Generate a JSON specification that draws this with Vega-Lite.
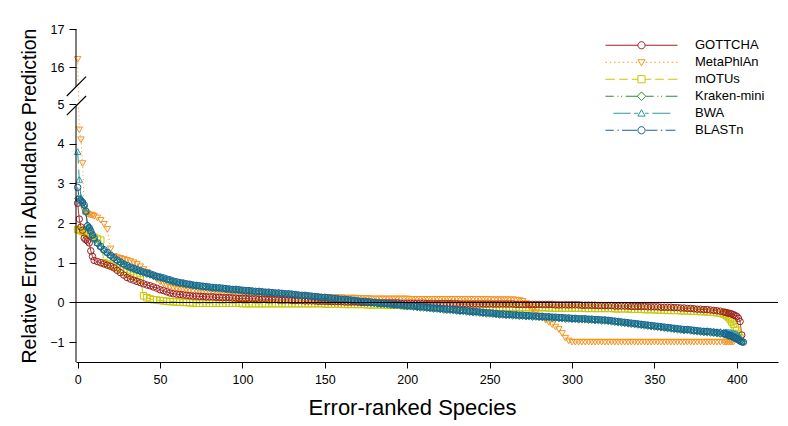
{
"$schema":"https://vega.github.io/schema/vega-lite/v6.json",
"width":702,"height":333,
"autosize":"none",
"padding":{"left":76,"top":29,"right":10,"bottom":64},
"config":{"font":"Liberation Sans","view":{"stroke":null},"axis":{"grid":false,"labelFont":"Liberation Sans","titleFont":"Liberation Sans","labelColor":"black","titleColor":"black","tickColor":"black","domainColor":"black","titleFontWeight":"normal"}},
"datasets":{
"d":[
{"x":0,"GOTTCHA":2.5,"MetaPhlAn":16.2,"mOTUs":1.84,"Kraken-mini":2.62,"BWA":3.8,"BLASTn":2.9},
{"x":1,"GOTTCHA":2.1,"MetaPhlAn":4.35,"mOTUs":1.83,"Kraken-mini":2.58,"BWA":3.1,"BLASTn":2.6},
{"x":2,"GOTTCHA":1.9,"MetaPhlAn":4.1,"mOTUs":1.81,"Kraken-mini":2.54,"BWA":2.65,"BLASTn":2.56},
{"x":3,"GOTTCHA":1.82,"MetaPhlAn":3.5,"mOTUs":1.79,"Kraken-mini":2.5,"BWA":2.55,"BLASTn":2.52},
{"x":4,"GOTTCHA":1.62,"MetaPhlAn":2.32,"mOTUs":1.77,"Kraken-mini":2.42,"BWA":2.48,"BLASTn":2.46},
{"x":5,"GOTTCHA":1.58,"MetaPhlAn":2.26,"mOTUs":1.75,"Kraken-mini":2.26,"BWA":2.3,"BLASTn":2.3},
{"x":6,"GOTTCHA":1.55,"MetaPhlAn":2.23,"mOTUs":1.73,"Kraken-mini":1.95,"BWA":1.9,"BLASTn":1.93},
{"x":7,"GOTTCHA":1.5,"MetaPhlAn":2.21,"mOTUs":1.71,"Kraken-mini":1.9,"BWA":1.88,"BLASTn":1.88},
{"x":8,"GOTTCHA":1.3,"MetaPhlAn":2.2,"mOTUs":1.69,"Kraken-mini":1.78,"BWA":1.81,"BLASTn":1.8},
{"x":9,"GOTTCHA":1.16,"MetaPhlAn":2.19,"mOTUs":1.66,"Kraken-mini":1.68,"BWA":1.71,"BLASTn":1.7},
{"x":10,"GOTTCHA":1.06,"MetaPhlAn":2.17,"mOTUs":1.64,"Kraken-mini":1.59,"BWA":1.63,"BLASTn":1.62},
{"x":12,"GOTTCHA":1.03,"MetaPhlAn":2.13,"mOTUs":1.61,"Kraken-mini":1.47,"BWA":1.51,"BLASTn":1.5},
{"x":14,"GOTTCHA":1.0,"MetaPhlAn":2.07,"mOTUs":1.57,"Kraken-mini":1.38,"BWA":1.42,"BLASTn":1.41},
{"x":16,"GOTTCHA":0.97,"MetaPhlAn":1.97,"mOTUs":1.0,"Kraken-mini":1.3,"BWA":1.34,"BLASTn":1.33},
{"x":18,"GOTTCHA":0.94,"MetaPhlAn":1.84,"mOTUs":0.97,"Kraken-mini":1.23,"BWA":1.27,"BLASTn":1.26},
{"x":20,"GOTTCHA":0.91,"MetaPhlAn":1.35,"mOTUs":0.94,"Kraken-mini":1.16,"BWA":1.2,"BLASTn":1.19},
{"x":22,"GOTTCHA":0.87,"MetaPhlAn":1.16,"mOTUs":0.91,"Kraken-mini":1.1,"BWA":1.14,"BLASTn":1.13},
{"x":24,"GOTTCHA":0.81,"MetaPhlAn":1.13,"mOTUs":0.87,"Kraken-mini":1.04,"BWA":1.08,"BLASTn":1.07},
{"x":26,"GOTTCHA":0.75,"MetaPhlAn":1.11,"mOTUs":0.83,"Kraken-mini":0.99,"BWA":1.03,"BLASTn":1.02},
{"x":28,"GOTTCHA":0.69,"MetaPhlAn":1.09,"mOTUs":0.79,"Kraken-mini":0.94,"BWA":0.98,"BLASTn":0.97},
{"x":30,"GOTTCHA":0.63,"MetaPhlAn":1.06,"mOTUs":0.76,"Kraken-mini":0.9,"BWA":0.94,"BLASTn":0.93},
{"x":32,"GOTTCHA":0.59,"MetaPhlAn":1.03,"mOTUs":0.72,"Kraken-mini":0.86,"BWA":0.9,"BLASTn":0.89},
{"x":34,"GOTTCHA":0.56,"MetaPhlAn":1.0,"mOTUs":0.68,"Kraken-mini":0.83,"BWA":0.87,"BLASTn":0.86},
{"x":36,"GOTTCHA":0.53,"MetaPhlAn":0.96,"mOTUs":0.64,"Kraken-mini":0.8,"BWA":0.84,"BLASTn":0.83},
{"x":38,"GOTTCHA":0.5,"MetaPhlAn":0.9,"mOTUs":0.58,"Kraken-mini":0.77,"BWA":0.81,"BLASTn":0.8},
{"x":40,"GOTTCHA":0.47,"MetaPhlAn":0.83,"mOTUs":0.17,"Kraken-mini":0.74,"BWA":0.78,"BLASTn":0.77},
{"x":42,"GOTTCHA":0.44,"MetaPhlAn":0.76,"mOTUs":0.12,"Kraken-mini":0.71,"BWA":0.75,"BLASTn":0.74},
{"x":44,"GOTTCHA":0.42,"MetaPhlAn":0.7,"mOTUs":0.09,"Kraken-mini":0.69,"BWA":0.73,"BLASTn":0.72},
{"x":46,"GOTTCHA":0.39,"MetaPhlAn":0.64,"mOTUs":0.07,"Kraken-mini":0.66,"BWA":0.7,"BLASTn":0.69},
{"x":48,"GOTTCHA":0.36,"MetaPhlAn":0.58,"mOTUs":0.06,"Kraken-mini":0.63,"BWA":0.67,"BLASTn":0.66},
{"x":50,"GOTTCHA":0.32,"MetaPhlAn":0.52,"mOTUs":0.05,"Kraken-mini":0.61,"BWA":0.65,"BLASTn":0.64},
{"x":52,"GOTTCHA":0.3,"MetaPhlAn":0.47,"mOTUs":0.04,"Kraken-mini":0.59,"BWA":0.63,"BLASTn":0.62},
{"x":54,"GOTTCHA":0.27,"MetaPhlAn":0.42,"mOTUs":0.03,"Kraken-mini":0.56,"BWA":0.6,"BLASTn":0.59},
{"x":56,"GOTTCHA":0.24,"MetaPhlAn":0.38,"mOTUs":0.02,"Kraken-mini":0.54,"BWA":0.58,"BLASTn":0.57},
{"x":58,"GOTTCHA":0.22,"MetaPhlAn":0.36,"mOTUs":0.02,"Kraken-mini":0.51,"BWA":0.55,"BLASTn":0.54},
{"x":60,"GOTTCHA":0.21,"MetaPhlAn":0.34,"mOTUs":0.01,"Kraken-mini":0.49,"BWA":0.53,"BLASTn":0.52},
{"x":62,"GOTTCHA":0.2,"MetaPhlAn":0.33,"mOTUs":0.01,"Kraken-mini":0.47,"BWA":0.51,"BLASTn":0.5},
{"x":64,"GOTTCHA":0.19,"MetaPhlAn":0.32,"mOTUs":0.0,"Kraken-mini":0.46,"BWA":0.5,"BLASTn":0.49},
{"x":66,"GOTTCHA":0.18,"MetaPhlAn":0.31,"mOTUs":0.0,"Kraken-mini":0.44,"BWA":0.48,"BLASTn":0.47},
{"x":68,"GOTTCHA":0.17,"MetaPhlAn":0.3,"mOTUs":-0.01,"Kraken-mini":0.43,"BWA":0.47,"BLASTn":0.46},
{"x":70,"GOTTCHA":0.16,"MetaPhlAn":0.29,"mOTUs":-0.01,"Kraken-mini":0.41,"BWA":0.45,"BLASTn":0.44},
{"x":72,"GOTTCHA":0.16,"MetaPhlAn":0.29,"mOTUs":-0.02,"Kraken-mini":0.4,"BWA":0.44,"BLASTn":0.43},
{"x":74,"GOTTCHA":0.15,"MetaPhlAn":0.28,"mOTUs":-0.02,"Kraken-mini":0.39,"BWA":0.43,"BLASTn":0.42},
{"x":76,"GOTTCHA":0.15,"MetaPhlAn":0.27,"mOTUs":-0.02,"Kraken-mini":0.38,"BWA":0.42,"BLASTn":0.41},
{"x":78,"GOTTCHA":0.14,"MetaPhlAn":0.27,"mOTUs":-0.02,"Kraken-mini":0.37,"BWA":0.41,"BLASTn":0.4},
{"x":80,"GOTTCHA":0.14,"MetaPhlAn":0.26,"mOTUs":-0.02,"Kraken-mini":0.36,"BWA":0.4,"BLASTn":0.39},
{"x":82,"GOTTCHA":0.14,"MetaPhlAn":0.26,"mOTUs":-0.02,"Kraken-mini":0.35,"BWA":0.39,"BLASTn":0.38},
{"x":84,"GOTTCHA":0.13,"MetaPhlAn":0.25,"mOTUs":-0.02,"Kraken-mini":0.34,"BWA":0.38,"BLASTn":0.37},
{"x":86,"GOTTCHA":0.13,"MetaPhlAn":0.25,"mOTUs":-0.02,"Kraken-mini":0.34,"BWA":0.38,"BLASTn":0.37},
{"x":88,"GOTTCHA":0.12,"MetaPhlAn":0.24,"mOTUs":-0.02,"Kraken-mini":0.33,"BWA":0.37,"BLASTn":0.36},
{"x":90,"GOTTCHA":0.12,"MetaPhlAn":0.24,"mOTUs":-0.02,"Kraken-mini":0.32,"BWA":0.36,"BLASTn":0.35},
{"x":92,"GOTTCHA":0.12,"MetaPhlAn":0.23,"mOTUs":-0.02,"Kraken-mini":0.31,"BWA":0.35,"BLASTn":0.34},
{"x":94,"GOTTCHA":0.11,"MetaPhlAn":0.23,"mOTUs":-0.02,"Kraken-mini":0.3,"BWA":0.34,"BLASTn":0.33},
{"x":96,"GOTTCHA":0.11,"MetaPhlAn":0.22,"mOTUs":-0.02,"Kraken-mini":0.3,"BWA":0.34,"BLASTn":0.33},
{"x":98,"GOTTCHA":0.1,"MetaPhlAn":0.22,"mOTUs":-0.02,"Kraken-mini":0.29,"BWA":0.33,"BLASTn":0.32},
{"x":100,"GOTTCHA":0.1,"MetaPhlAn":0.22,"mOTUs":-0.03,"Kraken-mini":0.28,"BWA":0.32,"BLASTn":0.31},
{"x":102,"GOTTCHA":0.1,"MetaPhlAn":0.21,"mOTUs":-0.03,"Kraken-mini":0.27,"BWA":0.31,"BLASTn":0.3},
{"x":104,"GOTTCHA":0.09,"MetaPhlAn":0.21,"mOTUs":-0.03,"Kraken-mini":0.27,"BWA":0.31,"BLASTn":0.3},
{"x":106,"GOTTCHA":0.09,"MetaPhlAn":0.21,"mOTUs":-0.03,"Kraken-mini":0.26,"BWA":0.3,"BLASTn":0.29},
{"x":108,"GOTTCHA":0.09,"MetaPhlAn":0.2,"mOTUs":-0.03,"Kraken-mini":0.25,"BWA":0.29,"BLASTn":0.28},
{"x":110,"GOTTCHA":0.08,"MetaPhlAn":0.2,"mOTUs":-0.03,"Kraken-mini":0.25,"BWA":0.29,"BLASTn":0.28},
{"x":112,"GOTTCHA":0.08,"MetaPhlAn":0.2,"mOTUs":-0.03,"Kraken-mini":0.24,"BWA":0.28,"BLASTn":0.27},
{"x":114,"GOTTCHA":0.08,"MetaPhlAn":0.19,"mOTUs":-0.03,"Kraken-mini":0.23,"BWA":0.27,"BLASTn":0.26},
{"x":116,"GOTTCHA":0.07,"MetaPhlAn":0.19,"mOTUs":-0.03,"Kraken-mini":0.23,"BWA":0.27,"BLASTn":0.26},
{"x":118,"GOTTCHA":0.07,"MetaPhlAn":0.18,"mOTUs":-0.03,"Kraken-mini":0.22,"BWA":0.26,"BLASTn":0.25},
{"x":120,"GOTTCHA":0.07,"MetaPhlAn":0.18,"mOTUs":-0.03,"Kraken-mini":0.21,"BWA":0.25,"BLASTn":0.24},
{"x":122,"GOTTCHA":0.06,"MetaPhlAn":0.18,"mOTUs":-0.03,"Kraken-mini":0.21,"BWA":0.25,"BLASTn":0.24},
{"x":124,"GOTTCHA":0.06,"MetaPhlAn":0.17,"mOTUs":-0.03,"Kraken-mini":0.2,"BWA":0.24,"BLASTn":0.23},
{"x":126,"GOTTCHA":0.06,"MetaPhlAn":0.17,"mOTUs":-0.03,"Kraken-mini":0.19,"BWA":0.23,"BLASTn":0.22},
{"x":128,"GOTTCHA":0.06,"MetaPhlAn":0.16,"mOTUs":-0.03,"Kraken-mini":0.19,"BWA":0.23,"BLASTn":0.22},
{"x":130,"GOTTCHA":0.05,"MetaPhlAn":0.16,"mOTUs":-0.03,"Kraken-mini":0.18,"BWA":0.22,"BLASTn":0.21},
{"x":132,"GOTTCHA":0.05,"MetaPhlAn":0.16,"mOTUs":-0.03,"Kraken-mini":0.17,"BWA":0.21,"BLASTn":0.2},
{"x":134,"GOTTCHA":0.05,"MetaPhlAn":0.15,"mOTUs":-0.03,"Kraken-mini":0.16,"BWA":0.2,"BLASTn":0.19},
{"x":136,"GOTTCHA":0.05,"MetaPhlAn":0.15,"mOTUs":-0.03,"Kraken-mini":0.15,"BWA":0.19,"BLASTn":0.18},
{"x":138,"GOTTCHA":0.04,"MetaPhlAn":0.15,"mOTUs":-0.03,"Kraken-mini":0.15,"BWA":0.19,"BLASTn":0.18},
{"x":140,"GOTTCHA":0.04,"MetaPhlAn":0.14,"mOTUs":-0.03,"Kraken-mini":0.14,"BWA":0.18,"BLASTn":0.17},
{"x":142,"GOTTCHA":0.04,"MetaPhlAn":0.14,"mOTUs":-0.03,"Kraken-mini":0.13,"BWA":0.17,"BLASTn":0.16},
{"x":144,"GOTTCHA":0.04,"MetaPhlAn":0.14,"mOTUs":-0.03,"Kraken-mini":0.12,"BWA":0.16,"BLASTn":0.15},
{"x":146,"GOTTCHA":0.03,"MetaPhlAn":0.14,"mOTUs":-0.03,"Kraken-mini":0.11,"BWA":0.15,"BLASTn":0.14},
{"x":148,"GOTTCHA":0.03,"MetaPhlAn":0.13,"mOTUs":-0.03,"Kraken-mini":0.1,"BWA":0.14,"BLASTn":0.13},
{"x":150,"GOTTCHA":0.03,"MetaPhlAn":0.13,"mOTUs":-0.04,"Kraken-mini":0.1,"BWA":0.14,"BLASTn":0.13},
{"x":152,"GOTTCHA":0.03,"MetaPhlAn":0.13,"mOTUs":-0.04,"Kraken-mini":0.09,"BWA":0.13,"BLASTn":0.12},
{"x":154,"GOTTCHA":0.02,"MetaPhlAn":0.12,"mOTUs":-0.04,"Kraken-mini":0.08,"BWA":0.12,"BLASTn":0.11},
{"x":156,"GOTTCHA":0.02,"MetaPhlAn":0.12,"mOTUs":-0.04,"Kraken-mini":0.07,"BWA":0.11,"BLASTn":0.1},
{"x":158,"GOTTCHA":0.02,"MetaPhlAn":0.12,"mOTUs":-0.04,"Kraken-mini":0.06,"BWA":0.1,"BLASTn":0.09},
{"x":160,"GOTTCHA":0.02,"MetaPhlAn":0.12,"mOTUs":-0.04,"Kraken-mini":0.05,"BWA":0.09,"BLASTn":0.08},
{"x":162,"GOTTCHA":0.01,"MetaPhlAn":0.11,"mOTUs":-0.05,"Kraken-mini":0.05,"BWA":0.09,"BLASTn":0.08},
{"x":164,"GOTTCHA":0.01,"MetaPhlAn":0.11,"mOTUs":-0.05,"Kraken-mini":0.04,"BWA":0.08,"BLASTn":0.07},
{"x":166,"GOTTCHA":0.01,"MetaPhlAn":0.11,"mOTUs":-0.05,"Kraken-mini":0.03,"BWA":0.07,"BLASTn":0.06},
{"x":168,"GOTTCHA":0.01,"MetaPhlAn":0.11,"mOTUs":-0.05,"Kraken-mini":0.02,"BWA":0.06,"BLASTn":0.05},
{"x":170,"GOTTCHA":0.01,"MetaPhlAn":0.1,"mOTUs":-0.05,"Kraken-mini":0.01,"BWA":0.05,"BLASTn":0.04},
{"x":172,"GOTTCHA":0.0,"MetaPhlAn":0.1,"mOTUs":-0.05,"Kraken-mini":0.0,"BWA":0.04,"BLASTn":0.03},
{"x":174,"GOTTCHA":0.0,"MetaPhlAn":0.1,"mOTUs":-0.05,"Kraken-mini":0.0,"BWA":0.04,"BLASTn":0.03},
{"x":176,"GOTTCHA":0.0,"MetaPhlAn":0.1,"mOTUs":-0.06,"Kraken-mini":-0.01,"BWA":0.03,"BLASTn":0.02},
{"x":178,"GOTTCHA":0.0,"MetaPhlAn":0.09,"mOTUs":-0.06,"Kraken-mini":-0.02,"BWA":0.02,"BLASTn":0.01},
{"x":180,"GOTTCHA":0.0,"MetaPhlAn":0.09,"mOTUs":-0.06,"Kraken-mini":-0.03,"BWA":0.01,"BLASTn":0.0},
{"x":182,"GOTTCHA":-0.01,"MetaPhlAn":0.09,"mOTUs":-0.06,"Kraken-mini":-0.04,"BWA":0.0,"BLASTn":-0.01},
{"x":184,"GOTTCHA":-0.01,"MetaPhlAn":0.09,"mOTUs":-0.06,"Kraken-mini":-0.05,"BWA":-0.01,"BLASTn":-0.02},
{"x":186,"GOTTCHA":-0.01,"MetaPhlAn":0.09,"mOTUs":-0.06,"Kraken-mini":-0.05,"BWA":-0.01,"BLASTn":-0.02},
{"x":188,"GOTTCHA":-0.01,"MetaPhlAn":0.09,"mOTUs":-0.07,"Kraken-mini":-0.06,"BWA":-0.02,"BLASTn":-0.03},
{"x":190,"GOTTCHA":-0.01,"MetaPhlAn":0.09,"mOTUs":-0.07,"Kraken-mini":-0.07,"BWA":-0.03,"BLASTn":-0.04},
{"x":192,"GOTTCHA":-0.01,"MetaPhlAn":0.09,"mOTUs":-0.07,"Kraken-mini":-0.08,"BWA":-0.04,"BLASTn":-0.05},
{"x":194,"GOTTCHA":-0.01,"MetaPhlAn":0.09,"mOTUs":-0.07,"Kraken-mini":-0.08,"BWA":-0.04,"BLASTn":-0.05},
{"x":196,"GOTTCHA":-0.02,"MetaPhlAn":0.09,"mOTUs":-0.07,"Kraken-mini":-0.09,"BWA":-0.05,"BLASTn":-0.06},
{"x":198,"GOTTCHA":-0.02,"MetaPhlAn":0.09,"mOTUs":-0.08,"Kraken-mini":-0.1,"BWA":-0.06,"BLASTn":-0.07},
{"x":200,"GOTTCHA":-0.02,"MetaPhlAn":0.09,"mOTUs":-0.08,"Kraken-mini":-0.11,"BWA":-0.07,"BLASTn":-0.08},
{"x":202,"GOTTCHA":-0.02,"MetaPhlAn":0.08,"mOTUs":-0.08,"Kraken-mini":-0.11,"BWA":-0.07,"BLASTn":-0.08},
{"x":204,"GOTTCHA":-0.02,"MetaPhlAn":0.08,"mOTUs":-0.08,"Kraken-mini":-0.12,"BWA":-0.08,"BLASTn":-0.09},
{"x":206,"GOTTCHA":-0.02,"MetaPhlAn":0.08,"mOTUs":-0.08,"Kraken-mini":-0.13,"BWA":-0.09,"BLASTn":-0.1},
{"x":208,"GOTTCHA":-0.02,"MetaPhlAn":0.08,"mOTUs":-0.09,"Kraken-mini":-0.14,"BWA":-0.1,"BLASTn":-0.11},
{"x":210,"GOTTCHA":-0.02,"MetaPhlAn":0.08,"mOTUs":-0.09,"Kraken-mini":-0.14,"BWA":-0.1,"BLASTn":-0.11},
{"x":212,"GOTTCHA":-0.03,"MetaPhlAn":0.08,"mOTUs":-0.09,"Kraken-mini":-0.15,"BWA":-0.11,"BLASTn":-0.12},
{"x":214,"GOTTCHA":-0.03,"MetaPhlAn":0.08,"mOTUs":-0.09,"Kraken-mini":-0.16,"BWA":-0.12,"BLASTn":-0.13},
{"x":216,"GOTTCHA":-0.03,"MetaPhlAn":0.08,"mOTUs":-0.09,"Kraken-mini":-0.17,"BWA":-0.13,"BLASTn":-0.14},
{"x":218,"GOTTCHA":-0.03,"MetaPhlAn":0.08,"mOTUs":-0.1,"Kraken-mini":-0.17,"BWA":-0.13,"BLASTn":-0.14},
{"x":220,"GOTTCHA":-0.03,"MetaPhlAn":0.08,"mOTUs":-0.1,"Kraken-mini":-0.18,"BWA":-0.14,"BLASTn":-0.15},
{"x":222,"GOTTCHA":-0.03,"MetaPhlAn":0.08,"mOTUs":-0.1,"Kraken-mini":-0.19,"BWA":-0.15,"BLASTn":-0.16},
{"x":224,"GOTTCHA":-0.03,"MetaPhlAn":0.08,"mOTUs":-0.1,"Kraken-mini":-0.2,"BWA":-0.16,"BLASTn":-0.17},
{"x":226,"GOTTCHA":-0.03,"MetaPhlAn":0.08,"mOTUs":-0.1,"Kraken-mini":-0.2,"BWA":-0.16,"BLASTn":-0.17},
{"x":228,"GOTTCHA":-0.03,"MetaPhlAn":0.08,"mOTUs":-0.1,"Kraken-mini":-0.21,"BWA":-0.17,"BLASTn":-0.18},
{"x":230,"GOTTCHA":-0.03,"MetaPhlAn":0.08,"mOTUs":-0.1,"Kraken-mini":-0.22,"BWA":-0.18,"BLASTn":-0.19},
{"x":232,"GOTTCHA":-0.04,"MetaPhlAn":0.08,"mOTUs":-0.11,"Kraken-mini":-0.23,"BWA":-0.19,"BLASTn":-0.2},
{"x":234,"GOTTCHA":-0.04,"MetaPhlAn":0.08,"mOTUs":-0.11,"Kraken-mini":-0.23,"BWA":-0.19,"BLASTn":-0.2},
{"x":236,"GOTTCHA":-0.04,"MetaPhlAn":0.08,"mOTUs":-0.11,"Kraken-mini":-0.24,"BWA":-0.2,"BLASTn":-0.21},
{"x":238,"GOTTCHA":-0.04,"MetaPhlAn":0.08,"mOTUs":-0.11,"Kraken-mini":-0.25,"BWA":-0.21,"BLASTn":-0.22},
{"x":240,"GOTTCHA":-0.04,"MetaPhlAn":0.08,"mOTUs":-0.11,"Kraken-mini":-0.26,"BWA":-0.22,"BLASTn":-0.23},
{"x":242,"GOTTCHA":-0.04,"MetaPhlAn":0.08,"mOTUs":-0.11,"Kraken-mini":-0.26,"BWA":-0.22,"BLASTn":-0.23},
{"x":244,"GOTTCHA":-0.04,"MetaPhlAn":0.08,"mOTUs":-0.11,"Kraken-mini":-0.27,"BWA":-0.23,"BLASTn":-0.24},
{"x":246,"GOTTCHA":-0.04,"MetaPhlAn":0.08,"mOTUs":-0.11,"Kraken-mini":-0.28,"BWA":-0.24,"BLASTn":-0.25},
{"x":248,"GOTTCHA":-0.04,"MetaPhlAn":0.08,"mOTUs":-0.12,"Kraken-mini":-0.29,"BWA":-0.25,"BLASTn":-0.26},
{"x":250,"GOTTCHA":-0.04,"MetaPhlAn":0.08,"mOTUs":-0.12,"Kraken-mini":-0.29,"BWA":-0.25,"BLASTn":-0.26},
{"x":252,"GOTTCHA":-0.04,"MetaPhlAn":0.07,"mOTUs":-0.12,"Kraken-mini":-0.3,"BWA":-0.26,"BLASTn":-0.27},
{"x":254,"GOTTCHA":-0.04,"MetaPhlAn":0.07,"mOTUs":-0.12,"Kraken-mini":-0.31,"BWA":-0.27,"BLASTn":-0.28},
{"x":256,"GOTTCHA":-0.04,"MetaPhlAn":0.07,"mOTUs":-0.12,"Kraken-mini":-0.32,"BWA":-0.28,"BLASTn":-0.29},
{"x":258,"GOTTCHA":-0.04,"MetaPhlAn":0.07,"mOTUs":-0.12,"Kraken-mini":-0.32,"BWA":-0.28,"BLASTn":-0.29},
{"x":260,"GOTTCHA":-0.04,"MetaPhlAn":0.07,"mOTUs":-0.12,"Kraken-mini":-0.33,"BWA":-0.29,"BLASTn":-0.3},
{"x":262,"GOTTCHA":-0.04,"MetaPhlAn":0.07,"mOTUs":-0.12,"Kraken-mini":-0.33,"BWA":-0.29,"BLASTn":-0.3},
{"x":264,"GOTTCHA":-0.04,"MetaPhlAn":0.07,"mOTUs":-0.12,"Kraken-mini":-0.34,"BWA":-0.3,"BLASTn":-0.31},
{"x":266,"GOTTCHA":-0.05,"MetaPhlAn":0.06,"mOTUs":-0.12,"Kraken-mini":-0.34,"BWA":-0.3,"BLASTn":-0.31},
{"x":268,"GOTTCHA":-0.05,"MetaPhlAn":0.05,"mOTUs":-0.13,"Kraken-mini":-0.35,"BWA":-0.31,"BLASTn":-0.32},
{"x":270,"GOTTCHA":-0.05,"MetaPhlAn":0.03,"mOTUs":-0.13,"Kraken-mini":-0.35,"BWA":-0.31,"BLASTn":-0.32},
{"x":272,"GOTTCHA":-0.05,"MetaPhlAn":-0.03,"mOTUs":-0.13,"Kraken-mini":-0.36,"BWA":-0.32,"BLASTn":-0.33},
{"x":274,"GOTTCHA":-0.05,"MetaPhlAn":-0.08,"mOTUs":-0.13,"Kraken-mini":-0.36,"BWA":-0.32,"BLASTn":-0.33},
{"x":276,"GOTTCHA":-0.05,"MetaPhlAn":-0.17,"mOTUs":-0.13,"Kraken-mini":-0.37,"BWA":-0.33,"BLASTn":-0.34},
{"x":278,"GOTTCHA":-0.05,"MetaPhlAn":-0.26,"mOTUs":-0.13,"Kraken-mini":-0.37,"BWA":-0.33,"BLASTn":-0.34},
{"x":280,"GOTTCHA":-0.05,"MetaPhlAn":-0.34,"mOTUs":-0.13,"Kraken-mini":-0.38,"BWA":-0.34,"BLASTn":-0.35},
{"x":282,"GOTTCHA":-0.05,"MetaPhlAn":-0.4,"mOTUs":-0.13,"Kraken-mini":-0.38,"BWA":-0.34,"BLASTn":-0.35},
{"x":284,"GOTTCHA":-0.05,"MetaPhlAn":-0.45,"mOTUs":-0.13,"Kraken-mini":-0.39,"BWA":-0.35,"BLASTn":-0.36},
{"x":286,"GOTTCHA":-0.05,"MetaPhlAn":-0.5,"mOTUs":-0.14,"Kraken-mini":-0.39,"BWA":-0.35,"BLASTn":-0.36},
{"x":288,"GOTTCHA":-0.05,"MetaPhlAn":-0.56,"mOTUs":-0.14,"Kraken-mini":-0.4,"BWA":-0.36,"BLASTn":-0.37},
{"x":290,"GOTTCHA":-0.06,"MetaPhlAn":-0.62,"mOTUs":-0.14,"Kraken-mini":-0.4,"BWA":-0.36,"BLASTn":-0.37},
{"x":292,"GOTTCHA":-0.06,"MetaPhlAn":-0.68,"mOTUs":-0.14,"Kraken-mini":-0.41,"BWA":-0.37,"BLASTn":-0.38},
{"x":294,"GOTTCHA":-0.06,"MetaPhlAn":-0.78,"mOTUs":-0.14,"Kraken-mini":-0.41,"BWA":-0.37,"BLASTn":-0.38},
{"x":296,"GOTTCHA":-0.06,"MetaPhlAn":-0.9,"mOTUs":-0.14,"Kraken-mini":-0.42,"BWA":-0.38,"BLASTn":-0.39},
{"x":298,"GOTTCHA":-0.06,"MetaPhlAn":-0.97,"mOTUs":-0.14,"Kraken-mini":-0.42,"BWA":-0.38,"BLASTn":-0.39},
{"x":300,"GOTTCHA":-0.06,"MetaPhlAn":-1.0,"mOTUs":-0.14,"Kraken-mini":-0.43,"BWA":-0.39,"BLASTn":-0.4},
{"x":302,"GOTTCHA":-0.06,"MetaPhlAn":-1.0,"mOTUs":-0.14,"Kraken-mini":-0.43,"BWA":-0.39,"BLASTn":-0.4},
{"x":304,"GOTTCHA":-0.06,"MetaPhlAn":-1.0,"mOTUs":-0.14,"Kraken-mini":-0.44,"BWA":-0.4,"BLASTn":-0.41},
{"x":306,"GOTTCHA":-0.07,"MetaPhlAn":-1.0,"mOTUs":-0.14,"Kraken-mini":-0.44,"BWA":-0.4,"BLASTn":-0.41},
{"x":308,"GOTTCHA":-0.07,"MetaPhlAn":-1.0,"mOTUs":-0.15,"Kraken-mini":-0.44,"BWA":-0.4,"BLASTn":-0.41},
{"x":310,"GOTTCHA":-0.07,"MetaPhlAn":-1.0,"mOTUs":-0.15,"Kraken-mini":-0.45,"BWA":-0.41,"BLASTn":-0.42},
{"x":312,"GOTTCHA":-0.07,"MetaPhlAn":-1.0,"mOTUs":-0.15,"Kraken-mini":-0.45,"BWA":-0.41,"BLASTn":-0.42},
{"x":314,"GOTTCHA":-0.07,"MetaPhlAn":-1.0,"mOTUs":-0.15,"Kraken-mini":-0.46,"BWA":-0.42,"BLASTn":-0.43},
{"x":316,"GOTTCHA":-0.08,"MetaPhlAn":-1.0,"mOTUs":-0.15,"Kraken-mini":-0.46,"BWA":-0.42,"BLASTn":-0.43},
{"x":318,"GOTTCHA":-0.08,"MetaPhlAn":-1.0,"mOTUs":-0.15,"Kraken-mini":-0.47,"BWA":-0.43,"BLASTn":-0.44},
{"x":320,"GOTTCHA":-0.08,"MetaPhlAn":-1.0,"mOTUs":-0.15,"Kraken-mini":-0.47,"BWA":-0.43,"BLASTn":-0.44},
{"x":322,"GOTTCHA":-0.08,"MetaPhlAn":-1.0,"mOTUs":-0.15,"Kraken-mini":-0.48,"BWA":-0.44,"BLASTn":-0.45},
{"x":324,"GOTTCHA":-0.08,"MetaPhlAn":-1.0,"mOTUs":-0.15,"Kraken-mini":-0.49,"BWA":-0.45,"BLASTn":-0.46},
{"x":326,"GOTTCHA":-0.09,"MetaPhlAn":-1.0,"mOTUs":-0.16,"Kraken-mini":-0.5,"BWA":-0.46,"BLASTn":-0.47},
{"x":328,"GOTTCHA":-0.09,"MetaPhlAn":-1.0,"mOTUs":-0.16,"Kraken-mini":-0.51,"BWA":-0.47,"BLASTn":-0.48},
{"x":330,"GOTTCHA":-0.09,"MetaPhlAn":-1.0,"mOTUs":-0.16,"Kraken-mini":-0.52,"BWA":-0.48,"BLASTn":-0.49},
{"x":332,"GOTTCHA":-0.09,"MetaPhlAn":-1.0,"mOTUs":-0.16,"Kraken-mini":-0.53,"BWA":-0.49,"BLASTn":-0.5},
{"x":334,"GOTTCHA":-0.09,"MetaPhlAn":-1.0,"mOTUs":-0.16,"Kraken-mini":-0.54,"BWA":-0.5,"BLASTn":-0.51},
{"x":336,"GOTTCHA":-0.1,"MetaPhlAn":-1.0,"mOTUs":-0.17,"Kraken-mini":-0.55,"BWA":-0.51,"BLASTn":-0.52},
{"x":338,"GOTTCHA":-0.1,"MetaPhlAn":-1.0,"mOTUs":-0.17,"Kraken-mini":-0.56,"BWA":-0.52,"BLASTn":-0.53},
{"x":340,"GOTTCHA":-0.1,"MetaPhlAn":-1.0,"mOTUs":-0.17,"Kraken-mini":-0.57,"BWA":-0.53,"BLASTn":-0.54},
{"x":342,"GOTTCHA":-0.1,"MetaPhlAn":-1.0,"mOTUs":-0.17,"Kraken-mini":-0.58,"BWA":-0.54,"BLASTn":-0.55},
{"x":344,"GOTTCHA":-0.1,"MetaPhlAn":-1.0,"mOTUs":-0.18,"Kraken-mini":-0.59,"BWA":-0.55,"BLASTn":-0.56},
{"x":346,"GOTTCHA":-0.11,"MetaPhlAn":-1.0,"mOTUs":-0.18,"Kraken-mini":-0.6,"BWA":-0.56,"BLASTn":-0.57},
{"x":348,"GOTTCHA":-0.11,"MetaPhlAn":-1.0,"mOTUs":-0.18,"Kraken-mini":-0.61,"BWA":-0.57,"BLASTn":-0.58},
{"x":350,"GOTTCHA":-0.11,"MetaPhlAn":-1.0,"mOTUs":-0.18,"Kraken-mini":-0.62,"BWA":-0.58,"BLASTn":-0.59},
{"x":352,"GOTTCHA":-0.11,"MetaPhlAn":-1.0,"mOTUs":-0.19,"Kraken-mini":-0.63,"BWA":-0.59,"BLASTn":-0.6},
{"x":354,"GOTTCHA":-0.12,"MetaPhlAn":-1.0,"mOTUs":-0.19,"Kraken-mini":-0.64,"BWA":-0.6,"BLASTn":-0.61},
{"x":356,"GOTTCHA":-0.12,"MetaPhlAn":-1.0,"mOTUs":-0.19,"Kraken-mini":-0.65,"BWA":-0.61,"BLASTn":-0.62},
{"x":358,"GOTTCHA":-0.12,"MetaPhlAn":-1.0,"mOTUs":-0.2,"Kraken-mini":-0.66,"BWA":-0.62,"BLASTn":-0.63},
{"x":360,"GOTTCHA":-0.12,"MetaPhlAn":-1.0,"mOTUs":-0.2,"Kraken-mini":-0.67,"BWA":-0.63,"BLASTn":-0.64},
{"x":362,"GOTTCHA":-0.13,"MetaPhlAn":-1.0,"mOTUs":-0.2,"Kraken-mini":-0.68,"BWA":-0.64,"BLASTn":-0.65},
{"x":364,"GOTTCHA":-0.13,"MetaPhlAn":-1.0,"mOTUs":-0.2,"Kraken-mini":-0.69,"BWA":-0.65,"BLASTn":-0.66},
{"x":366,"GOTTCHA":-0.14,"MetaPhlAn":-1.0,"mOTUs":-0.21,"Kraken-mini":-0.7,"BWA":-0.66,"BLASTn":-0.67},
{"x":368,"GOTTCHA":-0.14,"MetaPhlAn":-1.0,"mOTUs":-0.21,"Kraken-mini":-0.71,"BWA":-0.67,"BLASTn":-0.68},
{"x":370,"GOTTCHA":-0.15,"MetaPhlAn":-1.0,"mOTUs":-0.21,"Kraken-mini":-0.71,"BWA":-0.67,"BLASTn":-0.68},
{"x":372,"GOTTCHA":-0.15,"MetaPhlAn":-1.0,"mOTUs":-0.22,"Kraken-mini":-0.72,"BWA":-0.68,"BLASTn":-0.69},
{"x":374,"GOTTCHA":-0.16,"MetaPhlAn":-1.0,"mOTUs":-0.22,"Kraken-mini":-0.73,"BWA":-0.69,"BLASTn":-0.7},
{"x":376,"GOTTCHA":-0.17,"MetaPhlAn":-1.0,"mOTUs":-0.22,"Kraken-mini":-0.74,"BWA":-0.7,"BLASTn":-0.71},
{"x":378,"GOTTCHA":-0.17,"MetaPhlAn":-1.0,"mOTUs":-0.23,"Kraken-mini":-0.75,"BWA":-0.71,"BLASTn":-0.72},
{"x":380,"GOTTCHA":-0.18,"MetaPhlAn":-1.0,"mOTUs":-0.23,"Kraken-mini":-0.76,"BWA":-0.71,"BLASTn":-0.73},
{"x":382,"GOTTCHA":-0.18,"MetaPhlAn":-1.0,"mOTUs":-0.24,"Kraken-mini":-0.76,"BWA":-0.71,"BLASTn":-0.73},
{"x":384,"GOTTCHA":-0.19,"MetaPhlAn":-1.0,"mOTUs":-0.24,"Kraken-mini":-0.77,"BWA":-0.72,"BLASTn":-0.74},
{"x":386,"GOTTCHA":-0.2,"MetaPhlAn":-1.0,"mOTUs":-0.25,"Kraken-mini":-0.78,"BWA":-0.72,"BLASTn":-0.75},
{"x":388,"GOTTCHA":-0.21,"MetaPhlAn":-1.0,"mOTUs":-0.26,"Kraken-mini":-0.79,"BWA":-0.73,"BLASTn":-0.76},
{"x":390,"GOTTCHA":-0.22,"MetaPhlAn":-1.0,"mOTUs":-0.27,"Kraken-mini":-0.8,"BWA":-0.73,"BLASTn":-0.77},
{"x":392,"GOTTCHA":-0.24,"MetaPhlAn":-1.0,"mOTUs":-0.29,"Kraken-mini":-0.81,"BWA":-0.74,"BLASTn":-0.78},
{"x":393,"GOTTCHA":-0.25,"MetaPhlAn":-1.0,"mOTUs":-0.31,"Kraken-mini":-0.82,"BWA":-0.74,"BLASTn":-0.79},
{"x":394,"GOTTCHA":-0.26,"MetaPhlAn":-1.0,"mOTUs":-0.34,"Kraken-mini":-0.83,"BWA":-0.74,"BLASTn":-0.8},
{"x":395,"GOTTCHA":-0.27,"MetaPhlAn":-1.0,"mOTUs":-0.38,"Kraken-mini":-0.85,"BWA":-0.75,"BLASTn":-0.82},
{"x":396,"GOTTCHA":-0.28,"MetaPhlAn":-1.0,"mOTUs":-0.43,"Kraken-mini":-0.86,"BWA":-0.75,"BLASTn":-0.83},
{"x":397,"GOTTCHA":-0.29,"MetaPhlAn":-1.0,"mOTUs":-0.49,"Kraken-mini":-0.88,"BWA":-0.76,"BLASTn":-0.85},
{"x":398,"GOTTCHA":-0.31,"MetaPhlAn":-1.0,"mOTUs":-0.55,"Kraken-mini":-0.9,"BWA":-0.77,"BLASTn":-0.87},
{"x":399,"GOTTCHA":-0.33,"mOTUs":-0.62,"Kraken-mini":-0.92,"BWA":-0.78,"BLASTn":-0.89},
{"x":400,"GOTTCHA":-0.35,"mOTUs":-0.7,"Kraken-mini":-0.94,"BWA":-0.8,"BLASTn":-0.91},
{"x":401,"GOTTCHA":-0.4,"mOTUs":-0.8,"Kraken-mini":-0.96,"BWA":-0.83,"BLASTn":-0.94},
{"x":402,"GOTTCHA":-0.48,"mOTUs":-0.9,"Kraken-mini":-0.98,"BWA":-0.88,"BLASTn":-0.97},
{"x":403,"GOTTCHA":-0.82,"Kraken-mini":-1.0,"BLASTn":-0.99},
{"x":404,"Kraken-mini":-1.0,"BLASTn":-1.0}
],
"leg":[{"s":"GOTTCHA"},{"s":"MetaPhlAn"},{"s":"mOTUs"},{"s":"Kraken-mini"},{"s":"BWA"},{"s":"BLASTn"}],
"zero":[{"v":0}],
"yline":[{"x":-1,"y1":-1.5,"y2":4.95},{"x":-1,"y1":10.1,"y2":17}],
"brk":[{"x1":-6.6,"y1":4.72,"x2":5.1,"y2":7.38},{"x1":-6.6,"y1":7.38,"x2":5.1,"y2":13.12}]
},
"layer":[
{"data":{"name":"d"},
 "transform":[{"fold":["GOTTCHA","MetaPhlAn","mOTUs","Kraken-mini","BWA","BLASTn"],"as":["s","y"]}],
 "encoding":{
  "x":{"field":"x","type":"quantitative","scale":{"domain":[-1,425],"nice":false,"zero":false},
       "axis":{"values":[0,50,100,150,200,250,300,350,400],"title":"Error-ranked Species","titleFontSize":22,"titlePadding":12,"titleX":336,"labelFontSize":12.5,"labelPadding":5,"tickSize":6,"labelFlush":false,"labelOverlap":false}},
  "y":{"field":"y","type":"quantitative","scale":{"domain":[-1.5,5,16,17],"range":[333,75,38,0],"nice":false,"zero":false},
       "axis":{"values":[-1,0,1,2,3,4,5,16,17],"title":"Relative Error in Abundance Prediction","titleFontSize":19.5,"titlePadding":10,"labelFontSize":12.5,"labelPadding":5,"tickSize":7,"domain":false,"labelOverlap":false}},
  "color":{"field":"s","type":"nominal","scale":{"domain":["GOTTCHA","MetaPhlAn","mOTUs","Kraken-mini","BWA","BLASTn"],"range":["#9E1F1F","#F7931E","#C8C800","#2E8B3A","#2A9A9A","#1B5E96"]},"legend":null}
 },
 "layer":[
  {"mark":{"type":"line","strokeWidth":1},
   "encoding":{"strokeDash":{"field":"s","type":"nominal","scale":{"domain":["GOTTCHA","MetaPhlAn","mOTUs","Kraken-mini","BWA","BLASTn"],"range":[[1,0],[1,3],[8,4],[8,3,1,3,1,3],[12,6],[8,3,1,3]]},"legend":null}}},
  {"mark":{"type":"point","size":42,"strokeWidth":1,"filled":false,"opacity":1},
   "encoding":{"shape":{"field":"s","type":"nominal","scale":{"domain":["GOTTCHA","MetaPhlAn","mOTUs","Kraken-mini","BWA","BLASTn"],"range":["circle","triangle-down","square","diamond","triangle-up","circle"]},"legend":null},
     "order":{"field":"s","sort":"descending"}}}
 ]
},
{"data":{"name":"zero"},"mark":{"type":"rule","color":"black","strokeWidth":1},
 "encoding":{"y":{"field":"v","type":"quantitative","scale":{"domain":[-1.5,5,16,17],"range":[333,75,38,0],"nice":false,"zero":false}}}},
{"data":{"name":"yline"},"mark":{"type":"rule","color":"black","strokeWidth":1,"clip":false},
 "encoding":{"x":{"field":"x","type":"quantitative","scale":{"domain":[-1,425],"nice":false,"zero":false}},
   "y":{"field":"y1","type":"quantitative","scale":{"domain":[-1.5,5,16,17],"range":[333,75,38,0],"nice":false,"zero":false}},"y2":{"field":"y2"}}},
{"data":{"name":"brk"},"mark":{"type":"rule","color":"black","strokeWidth":1.2,"clip":false},
 "encoding":{"x":{"field":"x1","type":"quantitative","scale":{"domain":[-1,425],"nice":false,"zero":false}},"x2":{"field":"x2"},
   "y":{"field":"y1","type":"quantitative","scale":{"domain":[-1.5,5,16,17],"range":[333,75,38,0],"nice":false,"zero":false}},"y2":{"field":"y2"}}},
{"data":{"name":"leg"},"mark":{"type":"point","opacity":0,"filled":false,"strokeWidth":1},
 "encoding":{
  "color":{"field":"s","type":"nominal","scale":{"domain":["GOTTCHA","MetaPhlAn","mOTUs","Kraken-mini","BWA","BLASTn"],"range":["#9E1F1F","#F7931E","#C8C800","#2E8B3A","#2A9A9A","#1B5E96"]},
    "legend":{"title":null,"orient":"none","legendX":529,"legendY":8,"clipHeight":16.5,"symbolSize":5184,"symbolStrokeWidth":1,"symbolOpacity":1,"labelFontSize":13,"labelFont":"Liberation Sans","labelColor":"black","labelOffset":17,"rowPadding":0,"encode":{"symbols":{"update":{"opacity":{"value":1}}}}}},
  "shape":{"field":"s","type":"nominal","scale":{"domain":["GOTTCHA","MetaPhlAn","mOTUs","Kraken-mini","BWA","BLASTn"],"range":[
    "M-1,0L-0.1,0M0.1,0L1,0M0.1,0A0.1,0.1,0,1,1,-0.1,0A0.1,0.1,0,1,1,0.1,0",
    "M-1,0L-0.96,0M-0.88,0L-0.84,0M-0.76,0L-0.72,0M-0.64,0L-0.6,0M-0.52,0L-0.48,0M-0.4,0L-0.36,0M-0.28,0L-0.24,0M-0.16,0L-0.12,0M0.12,0L0.16,0M0.24,0L0.28,0M0.36,0L0.4,0M0.48,0L0.52,0M0.6,0L0.64,0M0.72,0L0.76,0M0.84,0L0.88,0M0.96,0L1,0M-0.1,-0.07L0.1,-0.07L0,0.1Z",
    "M-1,0L-0.74,0M-0.62,0L-0.38,0M-0.27,0L-0.1,0M0.1,0L0.27,0M0.38,0L0.62,0M0.74,0L1,0M-0.1,-0.1L0.1,-0.1L0.1,0.1L-0.1,0.1Z",
    "M-1,0L-0.77,0M-0.67,0L-0.64,0M-0.57,0L-0.54,0M-0.44,0L-0.12,0M0.12,0L0.34,0M0.44,0L0.47,0M0.54,0L0.57,0M0.67,0L1,0M0,-0.12L0.12,0L0,0.12L-0.12,0Z",
    "M-0.78,0L-0.3,0M-0.2,0L-0.1,0M0.1,0L0.2,0M0.3,0L0.8,0M0,-0.1L0.1,0.08L-0.1,0.08Z",
    "M-1,0L-0.77,0M-0.67,0L-0.63,0M-0.54,0L-0.12,0M0.12,0L0.44,0M0.54,0L0.58,0M0.67,0L0.94,0M0.1,0A0.1,0.1,0,1,1,-0.1,0A0.1,0.1,0,1,1,0.1,0"]},
    "legend":{"title":null,"orient":"none","legendX":529,"legendY":8,"clipHeight":16.5,"symbolSize":5184,"symbolStrokeWidth":1,"symbolOpacity":1,"labelFontSize":13,"labelFont":"Liberation Sans","labelColor":"black","labelOffset":17,"rowPadding":0,"encode":{"symbols":{"update":{"opacity":{"value":1}}}}}}
 }}
],
"resolve":{"scale":{"color":"independent","shape":"independent","strokeDash":"independent"}}
}
